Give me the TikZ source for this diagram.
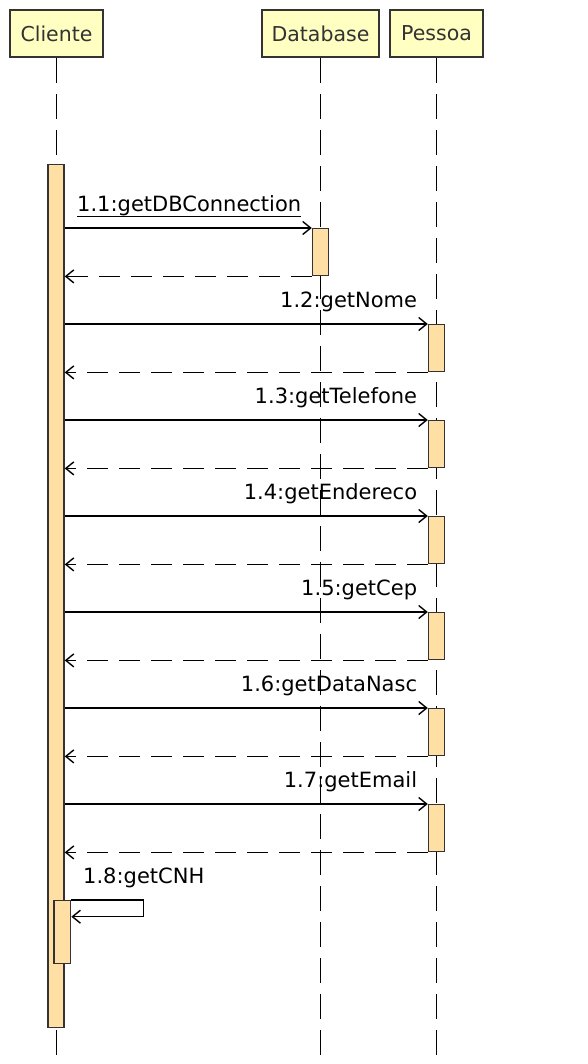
\documentclass[tikz,border=0pt]{standalone}
\usepackage{fontspec}
\setmainfont{DejaVu Sans}
\usetikzlibrary{arrows.meta}
\definecolor{headfill}{HTML}{FFFFC2}
\definecolor{actfill}{HTML}{FFDFA3}
\definecolor{umlgray}{HTML}{333333}
\tikzset{head/.style = {shape=rectangle, draw=umlgray, fill=headfill, line width=1.6pt, text=umlgray, minimum height=47pt, inner sep=0pt, font=\fontsize{20.5}{24}\selectfont}}
\tikzset{act/.style = {shape=rectangle, draw=umlgray, fill=actfill, line width=1.4pt, minimum width=16pt, inner sep=0pt, anchor=north}}
\tikzset{msg/.style = {inner sep=0pt, font=\fontsize{21}{24}\selectfont}}
\tikzset{call/.style = {line width=1.4pt, -{Straight Barb[length=8pt,width=13pt]}}}
\tikzset{ret/.style = {call, dash pattern=on 21pt off 11pt}}
\tikzset{life/.style = {line width=1.5pt, dash pattern=on 25pt off 11pt}}

\begin{document}
\begin{tikzpicture}[x=1pt, y=-1pt]
		\useasboundingbox (0,0) rectangle (588,1064);
		% Heads
		\node[head, minimum width=93pt]  (cliente)  at ( 56.5, 33.5) {Cliente};
		\node[head, minimum width=117pt] (database) at (320.5, 33.5) {Database};
		\node[head, minimum width=93pt]  (pessoa)   at (436.5, 33.5) {Pessoa};
		\coordinate (bottom) at (0, 1055);
		% Lifelines
		\foreach \who in {cliente, database, pessoa}
			\draw[life] (\who.south) -- (\who.south |- bottom);
		% Activations
		\node[act, minimum height=862.7pt] (c) at (56, 164) {};
		\node[act, minimum height=47pt]   (d1) at (320.5, 228) {};
		% Messages
		\node[msg, anchor=base west] (m1) at (77, 211.7) {1.1:getDBConnection};
		\draw[line width=1.2pt] ([yshift=-5pt]m1.base west) -- ([yshift=-5pt]m1.base east);
		\draw[call] (c.east |- d1.north west) -- (d1.north west);
		\draw[ret] (d1.south west) -- (c.east |- d1.south west);
		\foreach \n/\name [count=\i from 0] in {2/getNome, 3/getTelefone, 4/getEndereco, 5/getCep, 6/getDataNasc, 7/getEmail} {
			\node[act, minimum height=47pt] (p\n) at (436.5, 324+96*\i) {};
			\node[msg, anchor=base east] (m\n) at ([xshift=-10.5pt, yshift=16.5pt]p\n.north west) {1.\n:\name};
			\draw[call] (c.east |- p\n.north west) -- (p\n.north west);
			\draw[ret] (p\n.south west) -- (c.east |- p\n.south west);
		}
		% Self call
		\node[act, minimum width=16.7pt, minimum height=62.7pt] (c8) at (62.3, 900) {};
		\node[msg, anchor=base west] (m8) at (83, 883) {1.8:getCNH};
		\coordinate (loop) at ([xshift=72pt, yshift=-16.7pt]c8.north east);
		\draw[call] (c8.north east) -| (loop) -- (c8.east |- loop);
\end{tikzpicture}
\end{document}
